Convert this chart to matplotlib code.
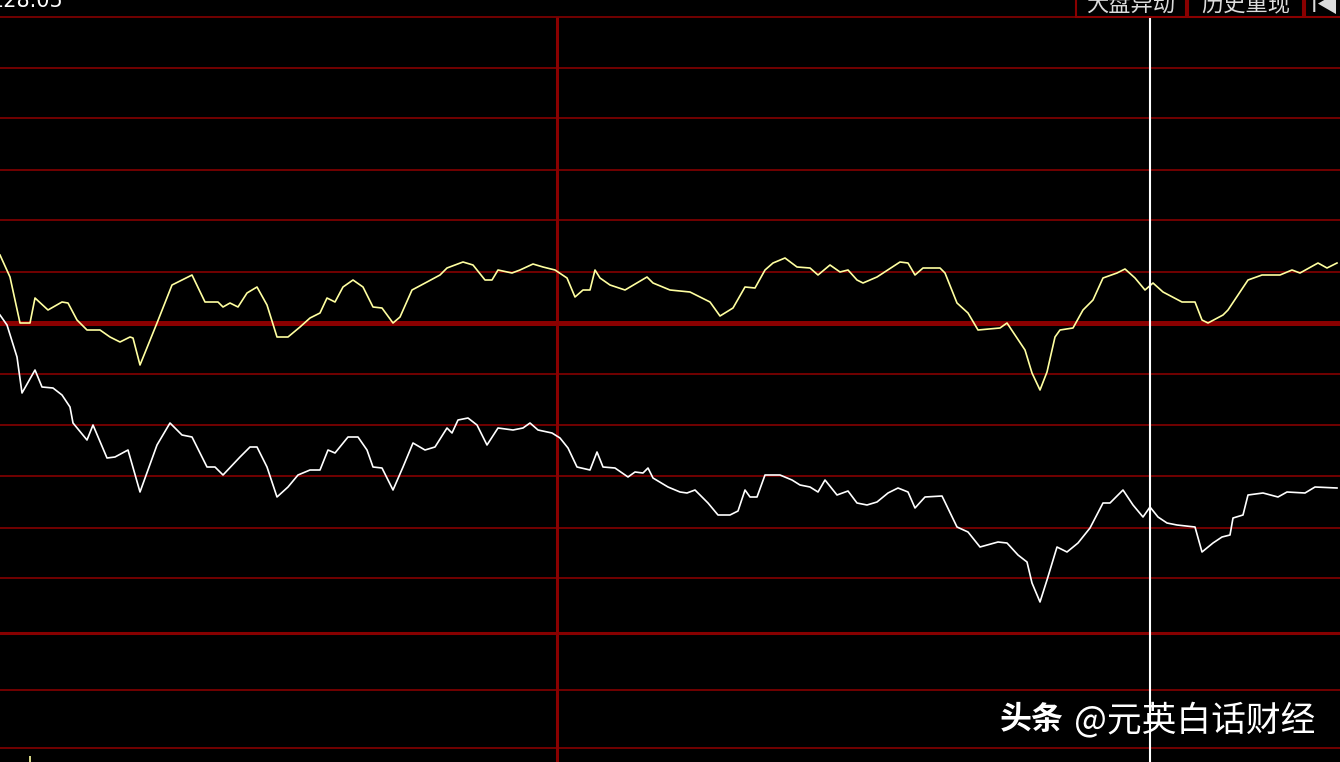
import matplotlib
matplotlib.use('Agg')  # no display
import matplotlib.pyplot as plt
from matplotlib.patches import Rectangle

plt.rcParams['font.family'] = ['Noto Sans CJK SC', 'DejaVu Sans']

# --- data: time position (chart ticks) and change vs previous close (points) ---
yellow_t = [0, 10, 20, 30, 35, 48, 62, 68, 77, 87, 100, 110, 120, 130, 133, 140,
            157, 172, 192, 205, 218, 223, 230, 238, 247, 257, 267, 277, 288, 300,
            310, 320, 327, 335, 343, 353, 363, 373, 382, 393, 400, 412, 427, 440,
            447, 463, 473, 485, 492, 498, 512, 520, 533, 543, 555, 567, 575, 583,
            590, 595, 600, 610, 625, 647, 653, 670, 690, 700, 710, 720, 733, 745,
            755, 765, 773, 785, 797, 810, 818, 830, 840, 848, 857, 863, 877, 900,
            908, 915, 923, 940, 945, 957, 968, 978, 1000, 1007, 1017, 1025, 1032,
            1040, 1047, 1055, 1060, 1073, 1083, 1093, 1103, 1117, 1125, 1135, 1145,
            1153, 1163, 1182, 1195, 1202, 1208, 1223, 1228, 1248, 1262, 1280, 1292,
            1300, 1318, 1327, 1337]
yellow_v = [68, 46, 0, 0, 25, 13, 21, 20, 3, -7, -7, -14, -19, -14, -15, -42,
            0, 38, 48, 21, 21, 16, 20, 16, 30, 36, 18, -14, -14, -4,
            5, 10, 25, 21, 36, 43, 36, 16, 15, 0, 6, 33, 41, 48,
            55, 61, 58, 43, 43, 53, 50, 53, 59, 56, 53, 45, 26, 33,
            33, 53, 45, 38, 33, 46, 40, 33, 31, 26, 21, 7, 15, 36,
            35, 53, 60, 65, 56, 55, 48, 58, 51, 53, 43, 40, 46, 61,
            60, 48, 55, 55, 50, 20, 10, -7, -5, 0, -15, -27, -50,
            -67, -49, -14, -7, -5, 13, 23, 45, 50, 54, 45, 33,
            40, 31, 21, 21, 3, 0, 8, 13, 43, 48, 48, 53,
            50, 60, 55, 60]

white_t = [0, 7, 17, 22, 35, 42, 53, 62, 70, 73, 87, 93, 107, 115, 128, 140,
           157, 170, 182, 192, 207, 215, 223, 240, 250, 257, 267, 277, 288, 298,
           310, 320, 328, 335, 348, 358, 367, 373, 382, 393, 403, 413, 425, 435,
           447, 452, 458, 468, 477, 487, 498, 513, 523, 530, 538, 552, 560, 568,
           577, 590, 597, 603, 615, 628, 635, 643, 648, 653, 668, 680, 687, 695,
           708, 718, 730, 738, 745, 750, 757, 765, 780, 792, 800, 810, 818, 825,
           837, 848, 857, 867, 877, 888, 898, 908, 915, 925, 942, 957, 968, 980,
           998, 1007, 1018, 1027, 1032, 1040, 1047, 1057, 1067, 1078, 1090, 1103,
           1110, 1123, 1133, 1143, 1150, 1158, 1167, 1177, 1195, 1202, 1213, 1222,
           1230, 1233, 1243, 1248, 1263, 1278, 1287, 1305, 1315, 1337]
white_v = [8, -2, -34, -70, -47, -64, -65, -72, -84, -100, -117, -102, -135, -134, -127, -169,
           -122, -100, -112, -114, -144, -144, -152, -134, -124, -124, -144, -174, -164, -152,
           -147, -147, -127, -130, -114, -114, -127, -144, -145, -167, -144, -120, -127, -124,
           -105, -110, -97, -95, -102, -122, -105, -107, -105, -100, -107, -110, -115, -125,
           -144, -147, -129, -144, -145, -154, -149, -150, -145, -155, -164, -169, -170, -167,
           -180, -192, -192, -188, -167, -174, -174, -152, -152, -157, -162, -164, -169, -157,
           -172, -168, -180, -182, -179, -170, -165, -169, -185, -174, -173, -204, -209, -224,
           -219, -220, -232, -239, -260, -279, -257, -224, -229, -220, -205, -180,
           -180, -167, -182, -194, -184, -194, -200, -202, -204, -229, -220, -214,
           -212, -195, -192, -172, -170, -174, -169, -170, -164, -165]

grid_levels = [306, 255, 205, 153, 103, 51, -51, -102, -153, -205, -255, -367, -425]
zero_level = 0
sub_level = -310          # divider above the lower panel
midday_t = 557
cursor_t = 1150
top_level = 306

GRID_RED = '#7a0000'
YELLOW = '#ffffa0'

fig = plt.figure(figsize=(13.4, 7.62), dpi=100, facecolor='black')
ax = fig.add_axes([0, 0, 1, 1])
ax.set_facecolor('black')
ax.set_xlim(0, 1340)
ax.set_ylim(-439, 323)
ax.axis('off')

# horizontal grid
for lvl in grid_levels:
    ax.axhline(lvl, color=GRID_RED, lw=1.3, zorder=1)
ax.axhline(zero_level, color='#8a0000', lw=3.6, zorder=1)
ax.axhline(sub_level, color='#860000', lw=2.2, zorder=1)

# vertical markers
ax.vlines(midday_t, -439, top_level, color='#8a0000', lw=2.2, zorder=1)
ax.vlines(cursor_t, -439, top_level, color='white', lw=1.5, zorder=4)

# the two price lines
ax.plot(yellow_t, yellow_v, color=YELLOW, lw=1.2, zorder=3)
ax.plot(white_t, white_v, color='white', lw=1.2, zorder=3)

# tiny bar at bottom left
ax.vlines(30, -439, -433, color=YELLOW, lw=1.2)

# header value, cut off at the top like the screenshot
ax.text(-9, 316, '228.05', color='white', fontsize=15, ha='left', va='baseline',
        family='DejaVu Sans', zorder=5)

# header buttons
buttons = [('大盘异动', 1076, 1186), ('历史重现', 1188, 1303), ('I◀', 1305, 1345)]
for label, x0, x1 in buttons:
    ax.add_patch(Rectangle((x0, 306), x1 - x0, 25, facecolor='black',
                           edgecolor='#8a0000', lw=1.5, zorder=5))
    ax.text((x0 + x1) / 2, 318, label, color='#dcdcdc', fontsize=16,
            ha='center', va='center', zorder=6,
            family=['Noto Sans CJK SC', 'DejaVu Sans'])

# watermark
ax.text(1000, -397, '头条', color='white', fontsize=23, fontweight='bold',
        ha='left', va='center', zorder=6)
ax.text(1074, -397, '@元英白话财经', color='white', fontsize=25,
        ha='left', va='center', zorder=6)

fig.savefig('out.png', dpi=100, facecolor='black')
